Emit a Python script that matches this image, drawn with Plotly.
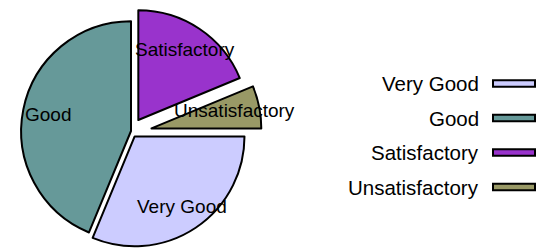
import math
import plotly.graph_objects as go

labels = ["Very Good", "Good", "Satisfactory", "Unsatisfactory"]
values = [10, 14, 6, 2]
colors = ["#ccccff", "#669999", "#9933cc", "#999966"]
pulls = [0.06, 0.0, 0.12, 0.19]

W, H = 549, 248
FONT = "Liberation Sans, Arial, sans-serif"
LABEL_FONT = 19
LEGEND_FONT = 20.5

# main pie (Unsatisfactory drawn by a second trace so it can be pulled further
# without shrinking the whole pie)
main_pull = [p if i < 3 else 0 for i, p in enumerate(pulls)]
side_pull = [0, 0, 0, max(main_pull)]
dom_y = [2 / H, 1.0]
box_h = H * (dom_y[1] - dom_y[0])
box_w = box_h
dom_xa = [0.0, box_w / W]
r = box_h / 2 / (1 + max(main_pull))
cxa = W * (dom_xa[0] + dom_xa[1]) / 2
cy = H * (1 - dom_y[0]) - box_h / 2

total = sum(values)
mids = []
start = 90.0
for v in values:
    span = 360.0 * v / total
    mids.append(math.radians(start + span / 2))
    start += span

# extra horizontal offset for the Unsatisfactory slice
want = pulls[3] * r
have = side_pull[3] * r
shift_x = (want - have) * math.sin(mids[3])
dom_xb = [dom_xa[0] + shift_x / W, dom_xa[1] + shift_x / W]
cxb = cxa + shift_x

transparent = "rgba(0,0,0,0)"
fig = go.Figure()
fig.add_trace(go.Pie(
    labels=labels, values=values, sort=False, direction="clockwise", rotation=90,
    pull=main_pull, textinfo="none", hoverinfo="label+value",
    marker=dict(colors=colors[:3] + [transparent],
                line=dict(color="black", width=[2, 2, 2, 0])),
    domain=dict(x=dom_xa, y=dom_y), showlegend=False,
))
fig.add_trace(go.Pie(
    labels=labels, values=values, sort=False, direction="clockwise", rotation=90,
    pull=side_pull, textinfo="none", hoverinfo="skip",
    marker=dict(colors=[transparent] * 3 + [colors[3]],
                line=dict(color="black", width=[0, 0, 0, 2])),
    domain=dict(x=dom_xb, y=dom_y), showlegend=False,
))

annotations = []
for i, lab in enumerate(labels):
    d = pulls[i] * r + 0.77 * r
    px = cxa + d * math.sin(mids[i])
    py = cy - d * math.cos(mids[i])
    annotations.append(dict(x=px / W, y=1 - py / H, xref="paper", yref="paper", text=lab,
                            showarrow=False, font=dict(size=LABEL_FONT, color="black", family=FONT),
                            xanchor="center", yanchor="middle"))

# legend: text on the left, swatch on the right
shapes = []
row_y = [75.5, 110, 144.5, 179]
for lab, col, yy in zip(labels, colors, row_y):
    annotations.append(dict(x=473 / W, y=1 - yy / H, xref="paper", yref="paper", text=lab,
                            showarrow=False, font=dict(size=LEGEND_FONT, color="black", family=FONT),
                            xanchor="right", yanchor="middle"))
    shapes.append(dict(type="rect", xref="paper", yref="paper", x0=485 / W, x1=527 / W,
                       y0=1 - (yy - 3.3) / H, y1=1 - (yy + 3.3) / H, fillcolor=col,
                       line=dict(color="black", width=2)))

fig.update_layout(width=W, height=H, margin=dict(l=0, r=0, t=0, b=0),
                  paper_bgcolor="white", plot_bgcolor="white",
                  annotations=annotations, shapes=shapes)
fig.write_html("out.html")
